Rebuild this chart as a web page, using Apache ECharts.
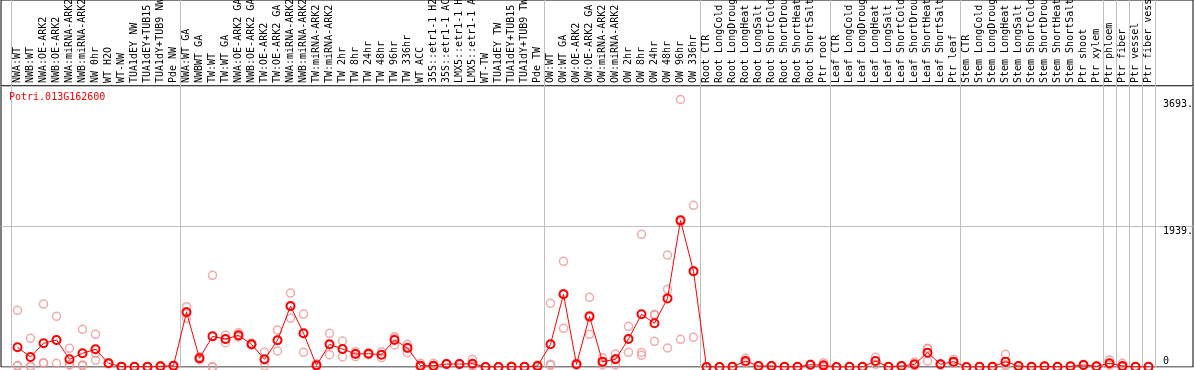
<!DOCTYPE html>
<html><head><meta charset="utf-8">
<script src="https://cdn.jsdelivr.net/npm/echarts@6/dist/echarts.min.js"></script>
<style>html,body{margin:0;padding:0;background:#fff}#c{width:1194px;height:370px}</style>
</head><body><div id="c"></div>
<script>
const geneId = 'Potri.013G162600';
const categories = [
  'NWA:WT','NWB:WT','NWA:OE-ARK2','NWB:OE-ARK2','NWA:miRNA-ARK2','NWB:miRNA-ARK2','NW 0hr','WT H2O','WT-NW','TUA1dEY NW','TUA1dEY+TUB15 NW','TUA1dY+TUB9 NW','Pde NW',
  'NWA:WT GA','NWBWT GA','TW:WT','TW:WT GA','NWA:OE-ARK2 GA','NWB:OE-ARK2 GA','TW:OE-ARK2','TW:OE-ARK2 GA','NWA:miRNA-ARK2 GA','NWB:miRNA-ARK2 GA','TW:miRNA-ARK2','TW:miRNA-ARK2 GA','TW 2hr','TW 8hr','TW 24hr','TW 48hr','TW 96hr','TW 336hr','WT ACC','35S::etr1-1 H2O','35S::etr1-1 ACC','LMX5::etr1-1 H2O','LMX5::etr1-1 ACC','WT-TW','TUA1dEY TW','TUA1dEY+TUB15 TW','TUA1dY+TUB9 TW','Pde TW',
  'OW:WT','OW:WT GA','OW:OE-ARK2','OW:OE-ARK2 GA','OW:miRNA-ARK2','OW:miRNA-ARK2 GA','OW 2hr','OW 8hr','OW 24hr','OW 48hr','OW 96hr','OW 336hr',
  'Root CTR','Root LongCold','Root LongDrought','Root LongHeat','Root LongSalt','Root ShortCold','Root ShortDrought','Root ShortHeat','Root ShortSalt','Ptr root',
  'Leaf CTR','Leaf LongCold','Leaf LongDrought','Leaf LongHeat','Leaf LongSalt','Leaf ShortCold','Leaf ShortDrought','Leaf ShortHeat','Leaf ShortSalt','Ptr leaf',
  'Stem CTR','Stem LongCold','Stem LongDrought','Stem LongHeat','Stem LongSalt','Stem ShortCold','Stem ShortDrought','Stem ShortHeat','Stem ShortSalt','Ptr shoot','Ptr xylem',
  'Ptr phloem','Ptr fiber','Ptr vessel','Ptr fiber vessel'
];
// index of first category of each group (separator lines drawn before them)
const groupStarts = [0, 13, 41, 53, 63, 73, 84, 85, 86, 87];

const meanValues = [
  272,138,327,373,106,189,244,51,5,3,3,10,18,
  755,120,423,386,437,313,106,368,842,465,23,313,248,179,184,170,373,262,18,18,41,41,46,0,0,5,2,14,
  313,1003,37,699,74,106,386,727,603,947,2024,1321,
  0,0,2,83,14,14,2,2,32,23,
  0,2,2,83,2,14,37,198,37,74,
  0,2,2,74,14,2,9,2,9,28,9,
  51,14,2,2
];
const rep1 = [
  782,396,869,700,258,520,451,60,8,5,5,20,25,
  832,143,1265,441,474,330,207,510,1021,731,46,465,359,211,198,211,419,313,51,51,46,46,106,0,0,9,4,28,
  879,1459,52,962,129,179,561,1831,727,1545,3693,2231,
  0,0,3,120,18,18,3,3,37,60,
  0,3,3,133,3,18,69,258,46,106,
  0,3,3,175,18,3,12,3,12,37,12,
  97,51,3,3
];
const rep2 = [
  14,14,60,51,28,18,189,46,4,2,2,5,15,
  672,120,4,336,419,300,14,221,672,203,14,170,138,143,170,129,304,198,0,0,37,37,18,0,0,3,1,9,
  23,534,28,451,28,28,202,200,713,1072,382,410,
  0,0,1,60,9,14,1,1,28,5,
  0,1,1,37,1,12,23,83,32,60,
  0,1,1,14,12,1,7,1,7,23,7,
  28,0,1,1
];
const rep3 = [
  20,4,52,368,32,29,92,47,3,2,2,5,14,
  761,97,0,381,418,309,97,373,833,461,9,304,247,183,184,170,396,275,3,3,40,40,14,0,0,3,1,5,
  37,1016,31,684,65,111,395,161,354,262,1997,1322,
  0,0,2,69,14,10,2,2,32,5,
  0,2,2,80,2,12,18,253,32,57,
  0,2,2,32,12,2,8,2,8,24,8,
  28,0,2,2
];
const yMax = 3878;
const yGridStep = 1939;
const yTickValues = [0, 1939, 3693];
const yTickLabels = ['0', '1939.', '3693.'];

const FONT = 'DejaVu Sans Mono';
const chart = echarts.init(document.getElementById('c'), null, {renderer: 'canvas'});
const sepLine = {
  show: true,
  interval: (idx) => groupStarts.indexOf(idx) >= 0,
  lineStyle: {color: '#c0c0c0', width: 1}
};
const repStyle = {color: 'transparent', borderColor: '#ee9696', borderWidth: 1.5};
function repSeries(arr) {
  return {type: 'scatter', xAxisIndex: 0, yAxisIndex: 0, data: arr, symbol: 'circle', symbolSize: 8,
    itemStyle: repStyle, z: 2, silent: true};
}
const gridBase = {outerBoundsMode: 'none', containLabel: false};
chart.setOption({
  animation: false,
  backgroundColor: '#fff',
  title: {text: geneId, left: 9, top: 91, padding: 0,
    textStyle: {color: '#ff0000', fontFamily: FONT, fontSize: 10, fontWeight: 'normal', lineHeight: 12}},
  grid: [
    Object.assign({left: 11, right: 39, top: 86, bottom: 3}, gridBase),
    Object.assign({left: 1, right: 1, top: 86, bottom: 3, show: true, borderColor: '#000', borderWidth: 1, backgroundColor: 'transparent'}, gridBase),
    Object.assign({left: 11, right: 39, top: 0, height: 86}, gridBase),
    Object.assign({left: 1, right: 1, top: 0, height: 86, show: true, borderColor: '#000', borderWidth: 1, backgroundColor: 'transparent'}, gridBase)
  ],
  xAxis: [
    {type: 'category', gridIndex: 0, data: categories, position: 'top', boundaryGap: true,
      axisLine: {show: false}, axisTick: {show: false},
      axisLabel: {interval: 0, rotate: 90, margin: 3, color: '#000', fontFamily: FONT, fontSize: 10, hideOverlap: false},
      splitLine: sepLine},
    {type: 'value', gridIndex: 1, min: 0, max: 1, show: false},
    {type: 'category', gridIndex: 2, data: categories, boundaryGap: true,
      axisLine: {show: false}, axisTick: {show: false}, axisLabel: {show: false},
      splitLine: sepLine},
    {type: 'value', gridIndex: 3, min: 0, max: 1, show: false}
  ],
  yAxis: [
    {type: 'value', gridIndex: 0, min: 0, max: yMax, show: false},
    {type: 'value', gridIndex: 1, min: 0, max: yMax, interval: yGridStep, position: 'right',
      axisLine: {show: false}, axisTick: {show: false}, axisLabel: {show: false},
      splitLine: {show: true, lineStyle: {color: '#c0c0c0', width: 1}}},
    {type: 'value', gridIndex: 2, min: 0, max: 1, show: false},
    {type: 'value', gridIndex: 3, min: 0, max: 1, show: false}
  ],
  series: [
    repSeries(rep1), repSeries(rep2), repSeries(rep3),
    {type: 'line', xAxisIndex: 0, yAxisIndex: 0, data: meanValues, symbol: 'circle', symbolSize: 8,
      showAllSymbol: true, z: 5, silent: true,
      lineStyle: {color: '#ff0000', width: 1},
      itemStyle: {color: 'transparent', borderColor: '#ff0000', borderWidth: 2}}
  ]
});
// right-side value labels, placed with the library's y scale
const labelGraphics = yTickValues.map((v, i) => {
  const py = chart.convertToPixel({gridIndex: 1}, [0, v])[1];
  const atBottom = v === 0;
  return {
    type: 'text', left: 1163, top: atBottom ? py - 11 : py, z: 10, silent: true,
    style: {text: yTickLabels[i], fill: '#000', font: '10px "' + FONT + '"'}
  };
});
chart.setOption({graphic: labelGraphics});
</script>
</body></html>
